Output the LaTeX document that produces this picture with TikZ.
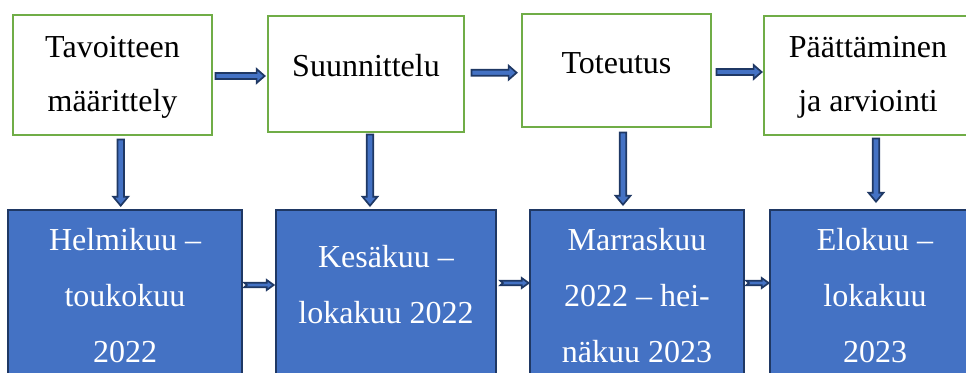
\documentclass[tikz,border=0pt]{standalone}
\usepackage{fontspec}
\setmainfont{Liberation Serif}
\usetikzlibrary{calc}
\definecolor{gbord}{HTML}{70AD47}
\definecolor{bfill}{HTML}{4472C4}
\definecolor{navy}{HTML}{1F3864}
\tikzset{
  gbox/.style={draw=gbord, line width=2.8pt, fill=white, inner sep=0pt},
  bbox/.style={draw=navy, line width=2.6pt, fill=bfill, inner sep=0pt},
  gtxt/.style={anchor=north, align=center, inner sep=0pt, font=\fontsize{32}{54}\selectfont},
  btxt/.style={anchor=north, align=center, inner sep=0pt, text=white, font=\fontsize{32}{56}\selectfont},
  barrow/.style={draw=navy, fill=bfill, line width=1.7pt, line join=miter}
}
\newcommand\tstrut{\rule{0pt}{26pt}}
% right-pointing block arrow: #1 start, #2 end, #3 shaft half, #4 head half, #5 head length, #6 tail notch
\newcommand\harr[6]{%
  \draw[barrow] let \p1=(#1), \p2=(#2) in
    (\x1,{\y1+#3}) -- ({\x2-#5},{\y1+#3}) -- ({\x2-#5},{\y1+#4}) -- (\x2,\y1)
    -- ({\x2-#5},{\y1-#4}) -- ({\x2-#5},{\y1-#3}) -- (\x1,{\y1-#3}) -- ({\x1+#6},\y1) -- cycle;}
% down-pointing block arrow: #1 start, #2 end, #3 shaft half, #4 head half, #5 head length
\newcommand\varr[5]{%
  \draw[barrow] let \p1=(#1), \p2=(#2) in
    ({\x1-#3},\y1) -- ({\x1-#3},{\y2+#5}) -- ({\x1-#4},{\y2+#5}) -- (\x1,\y2)
    -- ({\x1+#4},{\y2+#5}) -- ({\x1+#3},{\y2+#5}) -- ({\x1+#3},\y1) -- cycle;}
\begin{document}
\begin{tikzpicture}[x=1pt, y=-1pt]
  \useasboundingbox (0,0) rectangle (966,372);
  \clip (0,0) rectangle (966,372);
  % top (green) boxes
  \node[gbox, minimum width=199pt, minimum height=120pt] (g1) at (112.5,75) {};
  \node[gbox, minimum width=196pt, minimum height=116pt] (g2) at (366,74) {};
  \node[gbox, minimum width=189pt, minimum height=113pt] (g3) at (616.5,70.5) {};
  \node[gbox, minimum width=208pt, minimum height=119pt] (g4) at (868,75.5) {};
  % bottom (blue) boxes
  \node[bbox, minimum width=234pt, minimum height=190pt] (b1) at (125,305) {};
  \node[bbox, minimum width=220pt, minimum height=190pt] (b2) at (386,305) {};
  \node[bbox, minimum width=214pt, minimum height=190pt] (b3) at (637,305) {};
  \node[bbox, minimum width=210pt, minimum height=190pt] (b4) at (875,305) {};
  % texts
  \node[gtxt] (g1t) at (112.5,31) {\tstrut Tavoitteen\\määrittely};
  \node[gtxt] (g2t) at (366,50) {\tstrut Suunnittelu};
  \node[gtxt] (g3t) at (616.5,47) {\tstrut Toteutus};
  \node[gtxt] (g4t) at (868,31) {\tstrut Päättäminen\\ja arviointi};
  \node[btxt] (b1t) at (125,224) {\tstrut Helmikuu –\\toukokuu\\2022};
  \node[btxt] (b2t) at (386,241) {\tstrut Kesäkuu –\\lokakuu 2022};
  \node[btxt] (b3t) at (637,224) {\tstrut Marraskuu\\2022 – hei-\\näkuu 2023};
  \node[btxt] (b4t) at (875,224) {\tstrut Elokuu –\\lokakuu\\2023};
  % top horizontal arrows
  \harr{$(g1.east |- 0,76)+(2,0)$}{$(g2.west |- 0,76)+(-2,0)$}{3pt}{7pt}{8pt}{0pt}
  \harr{$(g2.east |- 0,72.7)+(6,0)$}{$(g3.west |- 0,72.7)+(-4,0)$}{3pt}{7pt}{8pt}{0pt}
  \harr{$(g3.east |- 0,72)+(4,0)$}{$(g4.west |- 0,72)+(-1,0)$}{3pt}{7pt}{8pt}{0pt}
  % vertical arrows
  \varr{$(g1.south -| 120.7,0)+(0,3)$}{$(b1.north -| 120.7,0)+(0,-3)$}{3.3pt}{7.5pt}{9pt}
  \varr{$(g2.south -| 370,0)+(0,1)$}{$(b2.north -| 370,0)+(0,-3)$}{3.3pt}{7.5pt}{9pt}
  \varr{$(g3.south -| 623,0)+(0,4)$}{$(b3.north -| 623,0)+(0,-4)$}{3.3pt}{7.5pt}{9pt}
  \varr{$(g4.south -| 876,0)+(0,2)$}{$(b4.north -| 876,0)+(0,-7)$}{3.3pt}{7.5pt}{9pt}
  % bottom horizontal arrows
  \harr{$(b1.east |- 0,285)+(1,0)$}{$(b2.west |- 0,285)+(-1,0)$}{2.3pt}{5pt}{7pt}{2.5pt}
  \harr{$(b2.east |- 0,283)+(3,0)$}{$(b3.west |- 0,283)$}{2.3pt}{5pt}{7pt}{2.5pt}
  \harr{$(b3.east |- 0,283)+(1,0)$}{$(b4.west |- 0,283)$}{2.3pt}{5pt}{7pt}{2.5pt}
\end{tikzpicture}
\end{document}
